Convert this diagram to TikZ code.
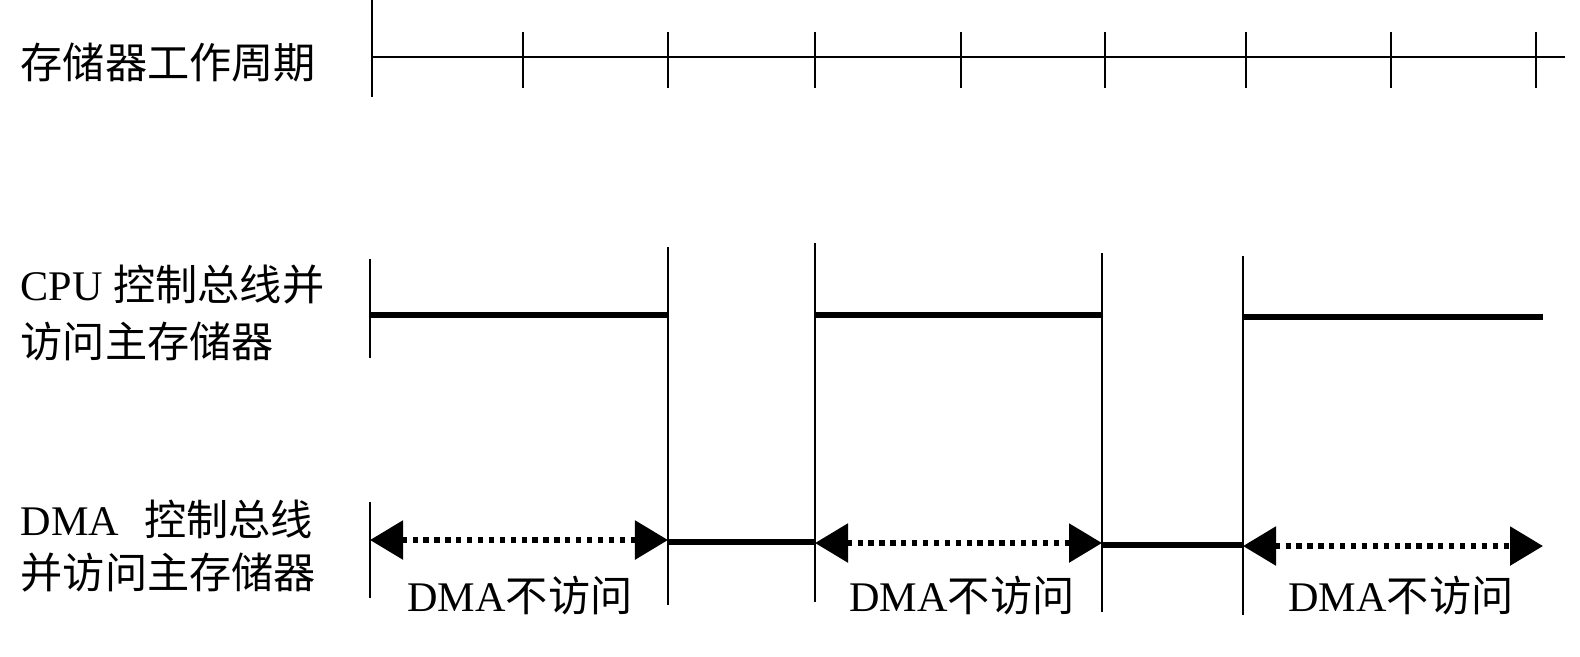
\documentclass[tikz,border=0pt]{standalone}
\usepackage{fontspec}
\setmainfont{Liberation Serif}
\newfontfamily\cjk{Noto Sans CJK SC}
\usetikzlibrary{arrows.meta}

\tikzset{
	lbl/.style={anchor=west, inner sep=0pt, align=left, font=\fontsize{12}{16.4}\selectfont},
	gap/.style={inner sep=0pt, font=\fontsize{12}{14}\selectfont},
	thin/.style={line width=0.7pt},
	bus/.style={line width=1.6pt},
	idle/.style={line width=1.6pt, dash pattern=on 1.5pt off 1.6pt,
		{Triangle[length=0.33cm,width=0.38cm]}-{Triangle[length=0.33cm,width=0.38cm]}},
}

\begin{document}
\begin{tikzpicture}[x=0.01cm, y=-0.01cm]
	\useasboundingbox (0,0) rectangle (1580,656);
	% row labels
	\node (mem) at (20,63)	[lbl]	{\cjk 存储器工作周期};
	\node (cpu) at (20,313)	[lbl]	{CPU {\cjk 控制总线并}\\{\cjk 访问主存储器}};
	\node (dma) at (20,546)	[lbl, font=\fontsize{12}{15}\selectfont]	{DMA\hspace{0.25cm}{\cjk 控制总线}\\{\cjk 并访问主存储器}};
	% memory cycles
	\coordinate (M0) at (372,57);
	\coordinate (M8) at (1565,57);
	\draw[thin] (M0) -- (M8);
	\draw[thin] (372,0) -- (372,97);
	\foreach \x in {523,668,815,961,1105,1246,1391,1536}
		\draw[thin] (\x,32) -- (\x,88);
	% switch instants
	\draw[thin] (370,259) -- (370,358);
	\draw[thin] (370,502) -- (370,598);
	\draw[thin] (668,247) -- (668,605);
	\draw[thin] (815,243) -- (815,602);
	\draw[thin] (1102,253) -- (1102,612);
	\draw[thin] (1243,256) -- (1243,615);
	% CPU owns the bus
	\coordinate (C1a) at (370,315);		\coordinate (C1b) at (668,315);
	\coordinate (C2a) at (815,315);		\coordinate (C2b) at (1102,315);
	\coordinate (C3a) at (1243,317);	\coordinate (C3b) at (1543,317);
	\draw[bus] (C1a) -- (C1b);
	\draw[bus] (C2a) -- (C2b);
	\draw[bus] (C3a) -- (C3b);
	% DMA owns the bus
	\coordinate (D1a) at (668,542);		\coordinate (D1b) at (815,542);
	\coordinate (D2a) at (1102,545);	\coordinate (D2b) at (1243,545);
	\draw[bus, line width=1.5pt] (D1a) -- (D1b);
	\draw[bus, line width=1.5pt] (D2a) -- (D2b);
	% DMA idle
	\coordinate (I1a) at (370,540);		\coordinate (I1b) at (668,540);
	\coordinate (I2a) at (815,543);		\coordinate (I2b) at (1102,543);
	\coordinate (I3a) at (1243,546);	\coordinate (I3b) at (1543,546);
	\draw[idle] (I1a) -- (I1b);
	\draw[idle] (I2a) -- (I2b);
	\draw[idle] (I3a) -- (I3b);
	\node (n1) at (520,596)		[gap]	{DMA{\cjk 不访问}};
	\node (n2) at (962,596)		[gap]	{DMA{\cjk 不访问}};
	\node (n3) at (1401,596)	[gap]	{DMA{\cjk 不访问}};
\end{tikzpicture}
\end{document}
